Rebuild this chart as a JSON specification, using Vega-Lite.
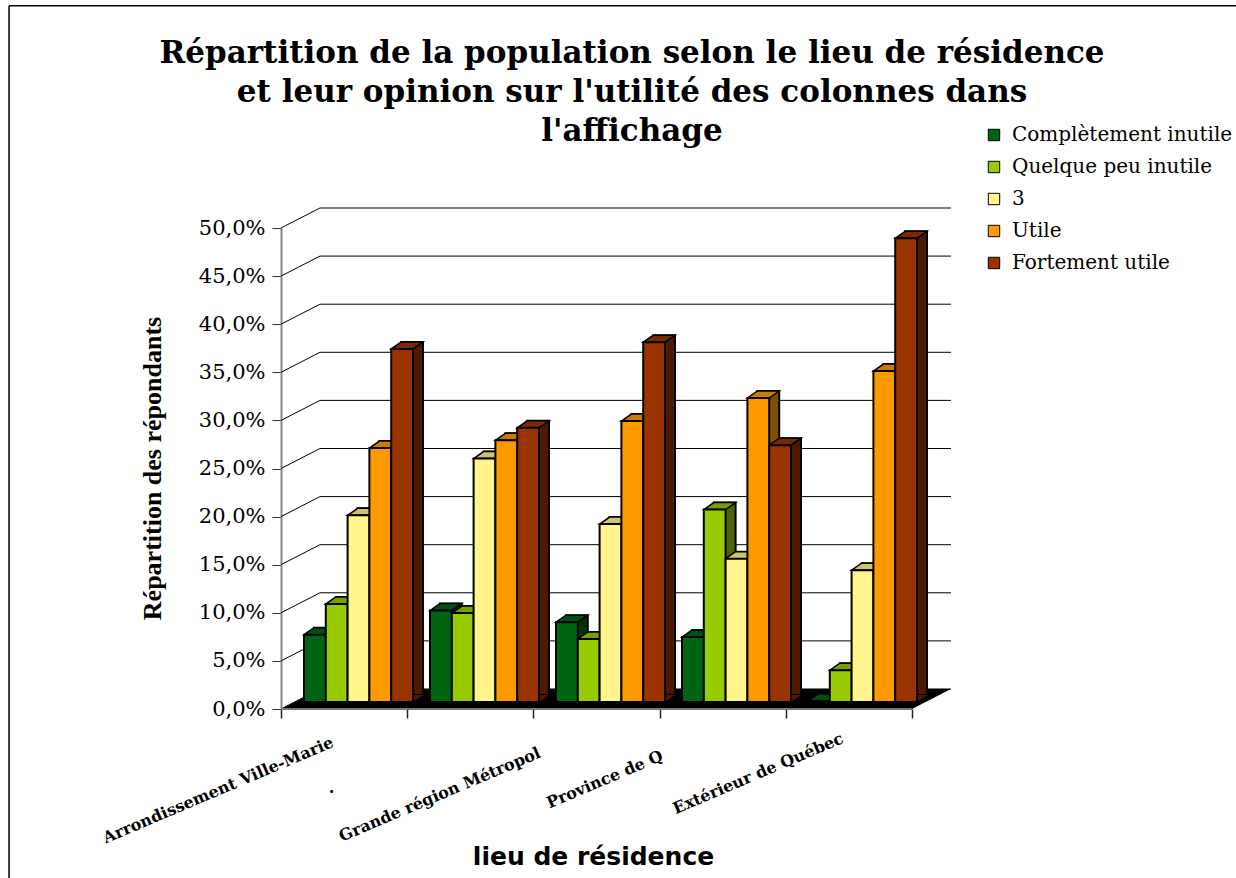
{"$schema":"https://vega.github.io/schema/vega-lite/v6.json","width":670,"height":481,"autosize":"none","padding":{"left":281,"top":228,"right":285,"bottom":169},"background":"white","config":{"view":{"stroke":null}},
"title":{"text":["Répartition de la population selon le lieu de résidence","et leur opinion sur l'utilité des colonnes dans","l'affichage"],"font":"DejaVu Serif","fontSize":31,"fontWeight":"bold","color":"black","lineHeight":39,"anchor":"middle","frame":"group","dx":16,"dy":147,"baseline":"top"},
"datasets":{"bars":[
{"lieu":"Arrondissement Ville-Marie","reponse":"Complètement inutile","value":7.0},{"lieu":"Arrondissement Ville-Marie","reponse":"Quelque peu inutile","value":10.2},{"lieu":"Arrondissement Ville-Marie","reponse":"3","value":19.4},{"lieu":"Arrondissement Ville-Marie","reponse":"Utile","value":26.4},{"lieu":"Arrondissement Ville-Marie","reponse":"Fortement utile","value":36.7},
{"lieu":".","reponse":"Complètement inutile","value":9.5},{"lieu":".","reponse":"Quelque peu inutile","value":9.25},{"lieu":".","reponse":"3","value":25.3},{"lieu":".","reponse":"Utile","value":27.2},{"lieu":".","reponse":"Fortement utile","value":28.5},
{"lieu":"Grande région Métropol","reponse":"Complètement inutile","value":8.3},{"lieu":"Grande région Métropol","reponse":"Quelque peu inutile","value":6.55},{"lieu":"Grande région Métropol","reponse":"3","value":18.5},{"lieu":"Grande région Métropol","reponse":"Utile","value":29.2},{"lieu":"Grande région Métropol","reponse":"Fortement utile","value":37.4},
{"lieu":"Province de Q","reponse":"Complètement inutile","value":6.75},{"lieu":"Province de Q","reponse":"Quelque peu inutile","value":20},{"lieu":"Province de Q","reponse":"3","value":14.9},{"lieu":"Province de Q","reponse":"Utile","value":31.6},{"lieu":"Province de Q","reponse":"Fortement utile","value":26.7},
{"lieu":"Extérieur de Québec","reponse":"Complètement inutile","value":0.1},{"lieu":"Extérieur de Québec","reponse":"Quelque peu inutile","value":3.3},{"lieu":"Extérieur de Québec","reponse":"3","value":13.7},{"lieu":"Extérieur de Québec","reponse":"Utile","value":34.4},{"lieu":"Extérieur de Québec","reponse":"Fortement utile","value":48.2}],
"levels":[{"v":0,"b":2.08},{"v":5,"b":7.08},{"v":10,"b":12.08},{"v":15,"b":17.08},{"v":20,"b":22.08},{"v":25,"b":27.08},{"v":30,"b":32.08},{"v":35,"b":37.08},{"v":40,"b":42.08},{"v":45,"b":47.08},{"v":50,"b":52.08}],
"floor":[{"p":0,"lo":0,"hi":0},{"p":0.309,"lo":0,"hi":2.08},{"p":5,"lo":0,"hi":2.08},{"p":5.309,"lo":2.08,"hi":2.08}],
"labels":[{"label":"Arrondissement Ville-Marie","p":0.41,"y":-3.4},{"label":".","p":0.41,"y":-8.1},{"label":"Grande région Métropol","p":2.05,"y":-4.5},{"label":"Province de Q","p":3.02,"y":-4.8},{"label":"Extérieur de Québec","p":4.45,"y":-3.0}]},
"data":{"name":"bars"},
"resolve":{"scale":{"x":"independent","color":"independent"}},
"layer":[
{"layer":[
{"data":{"name":"levels"},"mark":{"type":"rule","color":"black","strokeWidth":1},"encoding":{"x":{"datum":0.309,"type":"quantitative","scale":{"domain":[0,5.309],"nice":false,"zero":false},"title":"lieu de résidence","axis":{"values":[0,1,2,3,4,5],"labels":false,"grid":false,"domain":false,"ticks":true,"tickSize":9,"tickColor":"#222222","tickWidth":1.5,"titleFont":"DejaVu Sans","titleFontSize":25,"titleFontWeight":"bold","titleColor":"black","titleX":312,"titleY":147,"titleBaseline":"middle"}},"x2":{"datum":5.309},"y":{"field":"b","type":"quantitative","scale":{"domain":[0,50],"nice":false,"zero":false},"title":"Répartition des répondants","axis":{"values":[0,5,10,15,20,25,30,35,40,45,50],"grid":false,"domainColor":"#888888","domainWidth":2,"tickColor":"#333333","tickSize":9,"tickWidth":1,"labelExpr":"replace(format(datum.value,'.1f'),'.',',')+'%'","labelFont":"DejaVu Serif","labelFontSize":21,"labelColor":"black","labelPadding":7,"titleFont":"Liberation Serif","titleFontSize":26,"titleFontWeight":"bold","titleColor":"black","titleX":-129,"titleY":240,"titleBaseline":"middle"}}}},
{"data":{"name":"levels"},"mark":{"type":"rule","color":"black","strokeWidth":1},"encoding":{"x":{"datum":0,"type":"quantitative","title":"lieu de résidence"},"x2":{"datum":0.309},"y":{"field":"v","type":"quantitative","title":"Répartition des répondants"},"y2":{"field":"b"}}},
{"data":{"name":"floor"},"mark":{"type":"area","color":"black"},"encoding":{"x":{"field":"p","type":"quantitative","title":"lieu de résidence"},"y":{"field":"lo","type":"quantitative","stack":null,"title":"Répartition des répondants"},"y2":{"field":"hi"}}},
{"data":{"values":[{"a":0}]},"mark":{"type":"rule","color":"#777777","strokeWidth":2},"encoding":{"x":{"datum":0,"type":"quantitative","title":"lieu de résidence"},"x2":{"datum":5},"y":{"datum":0,"type":"quantitative","title":"Répartition des répondants"}}},
{"data":{"values":[{"a":0}]},"mark":{"type":"rule","color":"black","strokeWidth":1.5},"encoding":{"x":{"datum":-2.155,"type":"quantitative","title":"lieu de résidence"},"x2":{"datum":8},"y":{"datum":73.1,"type":"quantitative","title":"Répartition des répondants"}}},
{"data":{"values":[{"a":0}]},"mark":{"type":"rule","color":"black","strokeWidth":1.5},"encoding":{"x":{"datum":-2.155,"type":"quantitative","title":"lieu de résidence"},"y":{"datum":73.1,"type":"quantitative","title":"Répartition des répondants"},"y2":{"datum":-20}}},
{"data":{"name":"labels"},"mark":{"type":"text","align":"right","baseline":"middle","angle":337,"font":"DejaVu Serif","fontWeight":"bold","fontSize":16,"color":"black"},"encoding":{"x":{"field":"p","type":"quantitative","title":"lieu de résidence"},"y":{"field":"y","type":"quantitative","title":"Répartition des répondants"},"text":{"field":"label"}}}
]},
{"mark":{"type":"bar","yOffset":-14,"y2Offset":-14,"stroke":"black","strokeWidth":2},"encoding":{"x":{"field":"lieu","type":"nominal","sort":null,"axis":null,"scale":{"type":"band","paddingInner":0,"paddingOuter":0.1587,"align":0.6125}},"xOffset":{"field":"reponse","sort":["Complètement inutile","Quelque peu inutile","3","Utile","Fortement utile"],"scale":{"paddingOuter":0.39,"paddingInner":0}},"y":{"field":"value","type":"quantitative","stack":null,"title":"Répartition des répondants"},"y2":{"datum":0},"color":{"field":"reponse","sort":["Complètement inutile","Quelque peu inutile","3","Utile","Fortement utile"],"legend":null,"scale":{"domain":["Complètement inutile","Quelque peu inutile","3","Utile","Fortement utile"],"range":["#003300","#4C6600","#807A46","#805000","#4D1A00"]}}}},
{"mark":{"type":"point","filled":true,"opacity":1,"size":4,"shape":"M10.9 0L20.9 -7L10.9 -7Z","yOffset":-7,"strokeWidth":0},"encoding":{"x":{"field":"lieu","type":"nominal","sort":null,"axis":null,"scale":{"type":"band","paddingInner":0,"paddingOuter":0.1587,"align":0.3625}},"xOffset":{"field":"reponse","sort":["Complètement inutile","Quelque peu inutile","3","Utile","Fortement utile"],"scale":{"paddingOuter":0.39,"paddingInner":0}},"y":{"datum":0,"type":"quantitative","title":"Répartition des répondants"},"color":{"field":"reponse","legend":null,"scale":{"domain":["Complètement inutile","Quelque peu inutile","3","Utile","Fortement utile"],"range":["#003300","#4C6600","#807A46","#805000","#4D1A00"]}}}},
{"mark":{"type":"point","filled":true,"opacity":1,"size":4,"shape":"M-10.9 0L-0.9 -7L20.9 -7L10.9 0Z","yOffset":-7,"stroke":"black","strokeWidth":1.5},"encoding":{"x":{"field":"lieu","type":"nominal","sort":null,"axis":null,"scale":{"type":"band","paddingInner":0,"paddingOuter":0.1587,"align":0.3625}},"xOffset":{"field":"reponse","sort":["Complètement inutile","Quelque peu inutile","3","Utile","Fortement utile"],"scale":{"paddingOuter":0.39,"paddingInner":0}},"y":{"field":"value","type":"quantitative","title":"Répartition des répondants"},"color":{"field":"reponse","legend":null,"scale":{"domain":["Complètement inutile","Quelque peu inutile","3","Utile","Fortement utile"],"range":["#005010","#77A000","#CCC470","#CC7A00","#7A2900"]}}}},
{"mark":{"type":"bar","yOffset":-7,"y2Offset":-7,"stroke":"black","strokeWidth":2},"encoding":{"x":{"field":"lieu","type":"nominal","sort":null,"axis":null,"scale":{"type":"band","paddingInner":0,"paddingOuter":0.1587,"align":0.3625}},"xOffset":{"field":"reponse","sort":["Complètement inutile","Quelque peu inutile","3","Utile","Fortement utile"],"scale":{"paddingOuter":0.39,"paddingInner":0}},"y":{"field":"value","type":"quantitative","stack":null,"title":"Répartition des répondants"},"y2":{"datum":0},"color":{"field":"reponse","title":null,"scale":{"domain":["Complètement inutile","Quelque peu inutile","3","Utile","Fortement utile"],"range":["#006411","#99CC00","#FFF58C","#FF9900","#993300"]},"legend":{"orient":"none","legendX":703,"legendY":-103,"symbolType":"square","symbolSize":130,"symbolStrokeColor":"black","symbolStrokeWidth":1,"symbolOpacity":1,"labelFont":"DejaVu Serif","labelFontSize":20,"labelColor":"black","rowPadding":12,"labelLimit":300,"labelOffset":8}}}}
]}
